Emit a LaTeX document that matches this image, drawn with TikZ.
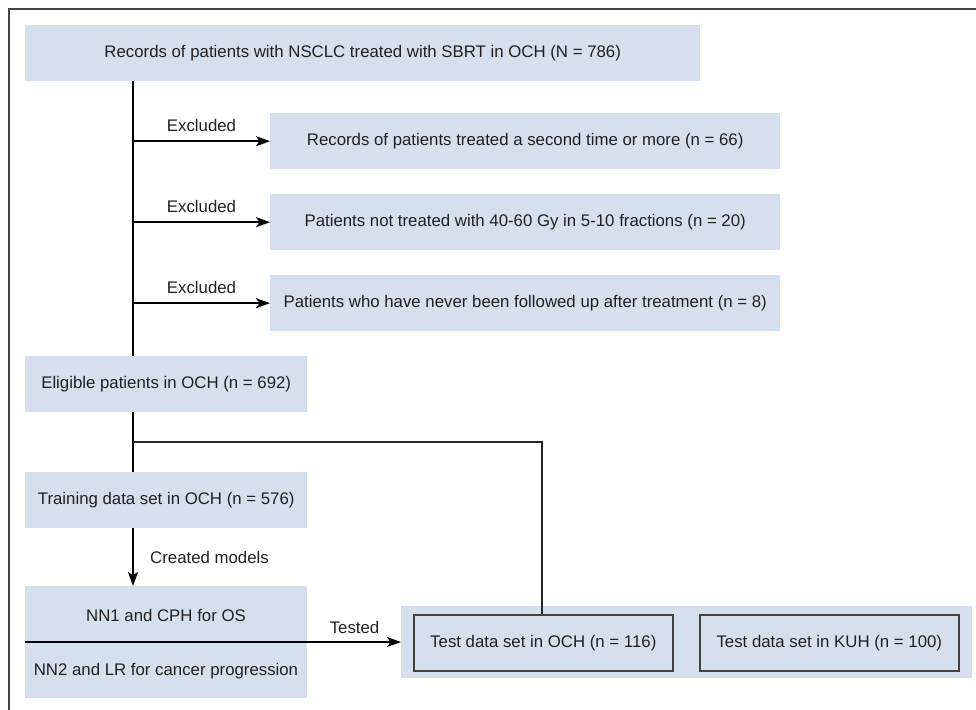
\documentclass[tikz,border=0pt]{standalone}
\usepackage{fontspec}
\setmainfont{Liberation Sans}
\usetikzlibrary{arrows.meta}
\definecolor{boxblue}{HTML}{D5DFEE}
\definecolor{ink}{HTML}{231F20}
\definecolor{framegray}{HTML}{444444}
\begin{document}
\begin{tikzpicture}[x=1pt,y=-1pt,
  font=\fontsize{16.8}{19}\selectfont, text=ink,
  box/.style={fill=boxblue, draw=none, inner sep=0pt, anchor=north west, text=ink},
  inbox/.style={fill=boxblue, draw=ink!85, line width=1.6pt, inner sep=0pt, anchor=north west, text=ink},
  lbl/.style={inner sep=0pt, text=ink},
  trunk/.style={draw=black, line width=2pt},
  branch/.style={draw=black!85, line width=1.6pt},
  arr/.style={-{Stealth[length=14pt,width=10pt,inset=3.5pt]}}]
\useasboundingbox (0,0) rectangle (976,709);
\clip (0,0) rectangle (976,709);
\draw[framegray, line width=1.5pt] (9,9) rectangle (1000,730);

\node[box, minimum width=675pt, minimum height=56pt] (top) at (25,25) {Records of patients with NSCLC treated with SBRT in OCH (N = 786)};
\node[box, minimum width=510pt, minimum height=56pt] (ex1) at (270,113) {Records of patients treated a second time or more (n = 66)};
\node[box, minimum width=510pt, minimum height=56pt] (ex2) at (270,194) {Patients not treated with 40-60 Gy in 5-10 fractions (n = 20)};
\node[box, minimum width=510pt, minimum height=56pt] (ex3) at (270,275) {Patients who have never been followed up after treatment (n = 8)};
\node[box, minimum width=282pt, minimum height=56pt] (elig) at (25,356) {Eligible patients in OCH (n = 692)};
\node[box, minimum width=282pt, minimum height=56pt] (train) at (25,472) {Training data set in OCH (n = 576)};
\node[box, minimum width=282pt, minimum height=112pt] (nn) at (25,586) {};
\node[lbl] (nn1) at (166,615) {NN1 and CPH for OS};
\node[lbl] (nn2) at (166,671) {NN2 and LR for cancer progression};
\node[box, minimum width=571pt, minimum height=72pt] (test) at (401,606) {};
\node[inbox, minimum width=259pt, minimum height=56pt] (t1) at (413,614) {Test data set in OCH (n = 116)};
\node[inbox, minimum width=259pt, minimum height=56pt] (t2) at (699,614) {Test data set in KUH (n = 100)};

\coordinate (tx) at (133,0);
\coordinate (br) at (133,442);
\coordinate (bx) at (542,442);
\coordinate (ts) at (25,642);

\draw[trunk] (tx |- top.south) -- (tx |- elig.north);
\draw[trunk, arr] (tx |- ex1.west) -- (ex1.west) node[lbl, midway, yshift=16pt] (e1) {Excluded};
\draw[trunk, arr] (tx |- ex2.west) -- (ex2.west) node[lbl, midway, yshift=16pt] (e2) {Excluded};
\draw[trunk, arr] (tx |- ex3.west) -- (ex3.west) node[lbl, midway, yshift=16pt] (e3) {Excluded};
\draw[trunk] (tx |- elig.south) -- (tx |- train.north);
\draw[branch] (br) -- (bx) -- (bx |- t1.north);
\draw[trunk, arr] (tx |- train.south) -- (tx |- nn.north);
\node[lbl, anchor=west] (cm) at (150,557) {Created models};
\draw[trunk, arr] (ts) -- (ts -| test.west);
\node[lbl] (tl) at (354.5,627) {Tested};
\end{tikzpicture}
\end{document}
